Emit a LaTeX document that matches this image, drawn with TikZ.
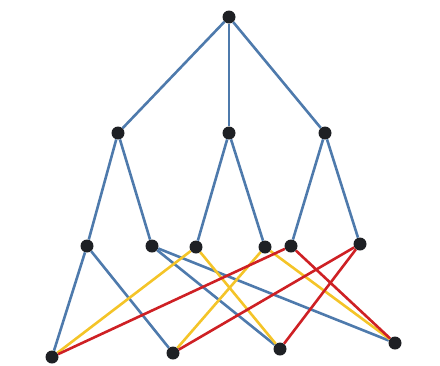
\documentclass[tikz,border=0pt]{standalone}
\usepackage{tikz}
\usepackage{xcolor}
\definecolor{edgeblue}{RGB}{78,122,172}
\definecolor{edgeyellow}{RGB}{244,196,40}
\definecolor{edgered}{RGB}{206,32,36}
\definecolor{dotgray}{RGB}{30,32,36}

\begin{document}
\begin{tikzpicture}[
    x=1pt, y=-1pt,
    vertex/.style={circle, fill=dotgray, inner sep=0pt, minimum size=13pt},
    blueedge/.style={edgeblue, line width=2.6pt},
    yellowedge/.style={edgeyellow, line width=2.6pt},
    rededge/.style={edgered, line width=2.6pt}
]
    \useasboundingbox (0,0) rectangle (440,365);

    % root and second level
    \node[vertex] (root) at (229,17) {};
    \node[vertex] (l1) at (118,133) {};
    \node[vertex] (l2) at (229,133) {};
    \node[vertex] (l3) at (325,133) {};

    % third level
    \node[vertex] (a) at (87,246) {};
    \node[vertex] (b) at (152,246) {};
    \node[vertex] (c) at (196,247) {};
    \node[vertex] (d) at (265,247) {};
    \node[vertex] (e) at (291,246) {};
    \node[vertex] (f) at (360,244) {};

    % bottom level
    \node[vertex] (w) at (52,357) {};
    \node[vertex] (x) at (173,353) {};
    \node[vertex] (y) at (280,349) {};
    \node[vertex] (z) at (395,343) {};

    \draw[blueedge] (root) -- (l1);
    \draw[blueedge] (root) -- (l2);
    \draw[blueedge] (root) -- (l3);
    \draw[blueedge] (l1) -- (a);
    \draw[blueedge] (l1) -- (b);
    \draw[blueedge] (l2) -- (c);
    \draw[blueedge] (l2) -- (d);
    \draw[blueedge] (l3) -- (e);
    \draw[blueedge] (l3) -- (f);

    \draw[blueedge] (a) -- (w);
    \draw[blueedge] (a) -- (x);
    \draw[blueedge] (b) -- (y);
    \draw[blueedge] (b) -- (z);
    \draw[yellowedge] (c) -- (w);
    \draw[yellowedge] (c) -- (y);
    \draw[yellowedge] (d) -- (x);
    \draw[yellowedge] (d) -- (z);
    \draw[rededge] (e) -- (w);
    \draw[rededge] (e) -- (z);
    \draw[rededge] (f) -- (x);
    \draw[rededge] (f) -- (y);
\end{tikzpicture}
\end{document}
